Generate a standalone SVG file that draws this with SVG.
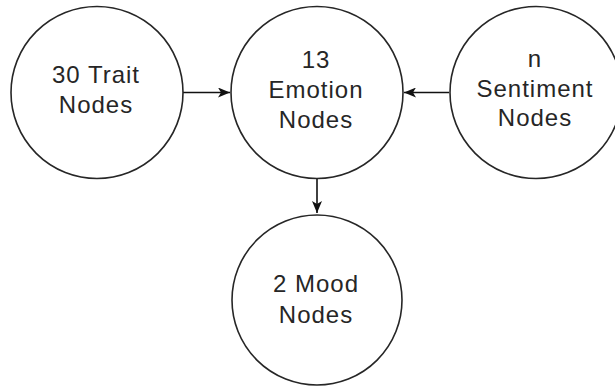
<svg xmlns="http://www.w3.org/2000/svg" width="615" height="386" viewBox="0 0 615 386">
  <style>
    .node circle { fill: #ffffff; stroke: #262626; stroke-width: 1.6; }
    .node text { font-family: "Liberation Sans", Arial, sans-serif; font-size: 24px; letter-spacing: 1px; fill: #262626; text-anchor: middle; }
    .edge { stroke: #111111; stroke-width: 1.6; fill: none; marker-end: url(#arrow); }
  </style>
  <defs>
    <marker id="arrow" viewBox="0 0 12 10" refX="12" refY="5" markerWidth="12" markerHeight="10" markerUnits="userSpaceOnUse" orient="auto">
      <path d="M0,0 L12,5 L0,10 L3,5 Z" fill="#111111"/>
    </marker>
  </defs>
  <rect width="615" height="386" fill="#ffffff"/>

  <g id="connectors">
    <line class="edge" x1="183" y1="92.5" x2="230" y2="92.5"/>
    <line class="edge" x1="449" y1="92.5" x2="404" y2="92.5"/>
    <line class="edge" x1="317" y1="179" x2="317" y2="213"/>
  </g>

  <g id="trait" class="node">
    <circle cx="97" cy="92.5" r="86"/>
    <text x="96" y="83">30 Trait</text>
    <text x="96" y="113">Nodes</text>
  </g>

  <g id="emotion" class="node">
    <circle cx="317" cy="92.5" r="86"/>
    <text x="316" y="68">13</text>
    <text x="316" y="98">Emotion</text>
    <text x="316" y="128">Nodes</text>
  </g>

  <g id="sentiment" class="node">
    <circle cx="536" cy="92.5" r="86"/>
    <text x="535" y="67">n</text>
    <text x="535" y="97">Sentiment</text>
    <text x="535" y="126">Nodes</text>
  </g>

  <g id="mood" class="node">
    <circle cx="317" cy="300" r="85"/>
    <text x="316" y="292">2 Mood</text>
    <text x="316" y="323">Nodes</text>
  </g>
</svg>
